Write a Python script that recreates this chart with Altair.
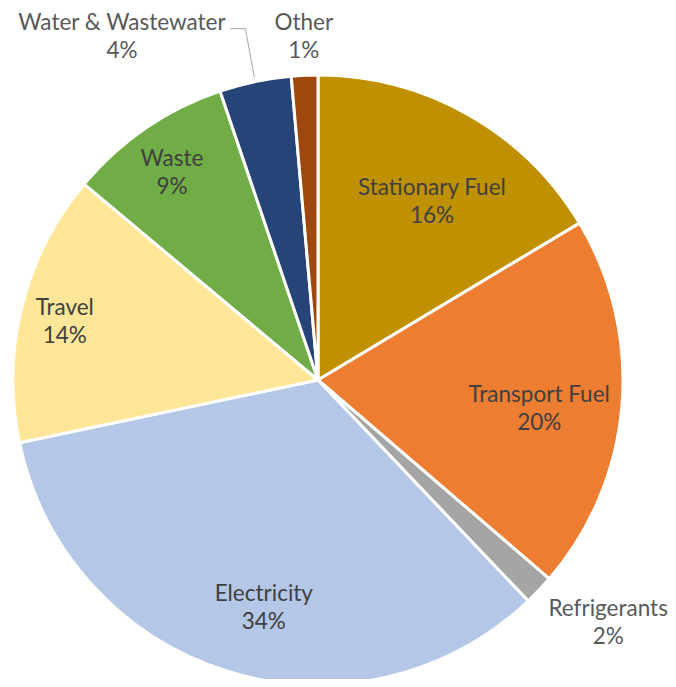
import altair as alt
import pandas as pd

categories = ["Stationary Fuel", "Transport Fuel", "Refrigerants", "Electricity",
              "Travel", "Waste", "Water & Wastewater", "Other"]
shares = [16.4, 19.9, 1.6, 33.8, 14.4, 8.7, 3.8, 1.4]
colors = ["#BF9000", "#ED7D31", "#A5A5A5", "#B4C7E7",
          "#FFE699", "#70AD47", "#264478", "#9E480E"]

df = pd.DataFrame({"category": categories, "share": shares,
                   "order": list(range(len(categories)))})

CX, CY, R = 310, 372, 305
FONT = "Lato"
FS = 22.5
LIFT = -12  # multi-line text block correction

# label placement: radial distance from centre plus small nudges
label_layout = {
    "Stationary Fuel": dict(r=213, dx=9, dy=5, color="#404040"),
    "Transport Fuel": dict(r=222, dx=0, dy=8, color="#404040"),
    "Refrigerants": dict(r=377, dx=17, dy=-19, color="#595959"),
    "Electricity": dict(r=233, dx=15, dy=4, color="#404040"),
    "Travel": dict(r=260, dx=-1, dy=3, color="#404040"),
    "Waste": dict(r=255, dx=-2, dy=1, color="#404040"),
    "Water & Wastewater": dict(r=345, dx=-125, dy=-7, color="#595959"),
    "Other": dict(r=345, dx=1, dy=0, color="#595959"),
}


def angled(chart):
    return (chart
            .transform_window(cum="sum(share)", sort=[alt.SortField("order", order="ascending")])
            .transform_joinaggregate(total="sum(share)")
            .transform_calculate(ang="2*PI*(datum.cum - datum.share/2)/datum.total",
                                 label="datum.category + '\\n' + format(datum.share, '.0f') + '%'"))


pie = alt.Chart(df).mark_arc(radius=R, stroke="white", strokeWidth=3).encode(
    theta=alt.Theta("share:Q", stack=True),
    order=alt.Order("order:Q"),
    color=alt.Color("category:N", scale=alt.Scale(domain=categories, range=colors), legend=None),
    x=alt.value(CX), y=alt.value(CY),
)

layers = [pie]
for cat, lay in label_layout.items():
    t = (angled(alt.Chart(df))
         .transform_filter(alt.datum.category == cat)
         .transform_calculate(px=f"{CX} + {lay['r']}*sin(datum.ang)",
                              py=f"{CY} - {lay['r']}*cos(datum.ang)")
         .mark_text(dx=lay["dx"], dy=lay["dy"] + LIFT, lineBreak="\n", lineHeight=28,
                    font=FONT, fontSize=FS, color=lay["color"], align="center", baseline="middle")
         .encode(x=alt.X("px:Q", scale=None, axis=None),
                 y=alt.Y("py:Q", scale=None, axis=None),
                 text="label:N"))
    layers.append(t)

leader_base = (angled(alt.Chart(df))
               .transform_filter(alt.datum.category == "Water & Wastewater")
               .transform_calculate(ex=f"{CX} + {R + 4}*sin(datum.ang)",
                                    ey=f"{CY} - {R + 4}*cos(datum.ang)")
               .transform_calculate(bx="datum.ex - 9", by="datum.ey - 49")
               .transform_calculate(tx="datum.bx - 15"))
leader1 = leader_base.mark_rule(color="#A6A6A6", strokeWidth=1).encode(
    x=alt.X("ex:Q", scale=None, axis=None), y=alt.Y("ey:Q", scale=None, axis=None),
    x2="bx:Q", y2="by:Q")
leader2 = leader_base.mark_rule(color="#A6A6A6", strokeWidth=1).encode(
    x=alt.X("bx:Q", scale=None, axis=None), y=alt.Y("by:Q", scale=None, axis=None),
    x2="tx:Q", y2="by:Q")
layers += [leader1, leader2]

chart = alt.layer(*layers).properties(
    width=660, height=671, autosize="none", padding=0
).configure_view(stroke=None)

chart.save("out.html", embed_options={"renderer": "svg", "actions": False})
